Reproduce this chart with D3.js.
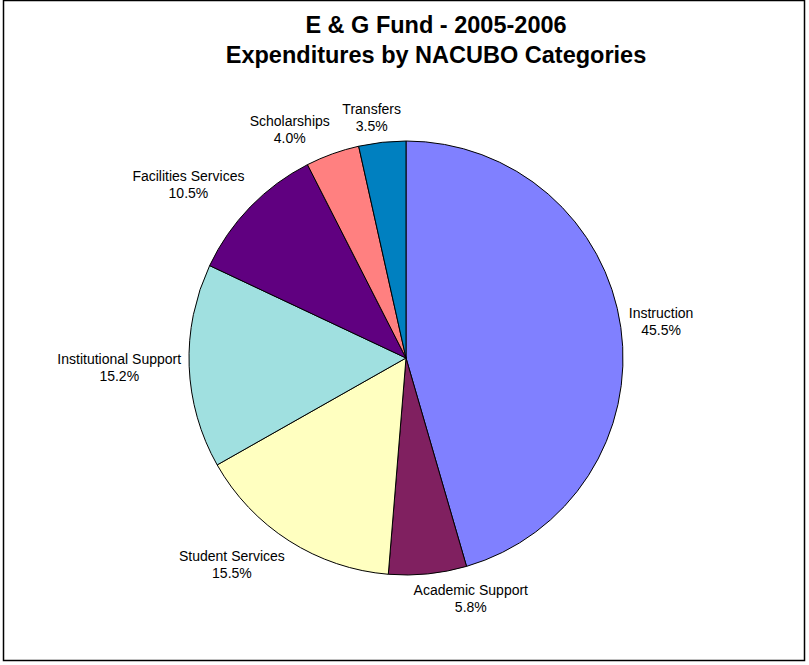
<!DOCTYPE html>
<html lang="en">
<head>
    <meta charset="UTF-8">
    <title>E & G Fund - 2005-2006</title>
    <script src="https://d3js.org/d3.v7.min.js"></script>
    <style>
        body { margin: 0; background: #fff; }
        svg text { font-family: "Liberation Sans", Arial, sans-serif; fill: #000; }
    </style>
</head>
<body>
    <svg id="chart" width="809" height="665"></svg>

    <script>
        // Datos del gráfico
        var categories = ["Instruction", "Academic Support", "Student Services", "Institutional Support",
                          "Facilities Services", "Scholarships", "Transfers"];
        var percents = [45.5, 5.8, 15.5, 15.2, 10.5, 4.0, 3.5];
        var colors = ["#8080FF", "#802060", "#FFFFC0", "#A0E0E0", "#600080", "#FF8080", "#0080C0"];
        var titleLines = ["E & G Fund - 2005-2006", "Expenditures by NACUBO Categories"];

        var data = categories.map((c, i) => ({ name: c, value: percents[i], color: colors[i] }));

        var svg = d3.select("#chart");

        // Marco del gráfico
        svg.append("rect")
            .attr("x", 3.5).attr("y", 0.5)
            .attr("width", 801).attr("height", 660)
            .attr("fill", "white")
            .attr("stroke", "#000")
            .attr("stroke-width", 1.5);

        // Título
        svg.selectAll(".title")
            .data(titleLines)
            .enter().append("text")
            .attr("class", "title")
            .attr("x", 436)
            .attr("y", (d, i) => 33 + i * 30)
            .attr("text-anchor", "middle")
            .attr("font-size", "23.5px")
            .attr("font-weight", "bold")
            .text(d => d);

        var cx = 406, cy = 358, radius = 217;

        var pie = d3.pie().sort(null).value(d => d.value);
        var arc = d3.arc().innerRadius(0).outerRadius(radius);
        var arcs = pie(data);

        var g = svg.append("g").attr("transform", "translate(" + cx + "," + cy + ")");

        g.selectAll(".slice")
            .data(arcs)
            .enter().append("path")
            .attr("class", "slice")
            .attr("d", arc)
            .attr("fill", d => d.data.color)
            .attr("stroke", "#000")
            .attr("stroke-width", 1);

        // Etiquetas afuera del pastel
        var fontSize = 14, lineH = 17;
        var labelShift = { "Academic Support": 25 }; // movida a mano en el original

        var labels = g.selectAll(".label")
            .data(arcs)
            .enter().append("g")
            .attr("class", "label");

        labels.each(function(d) {
            var sel = d3.select(this);
            var lines = [d.data.name, d.data.value.toFixed(1) + "%"];
            var t = sel.append("text")
                .attr("text-anchor", "middle")
                .attr("font-size", fontSize + "px");
            t.selectAll("tspan")
                .data(lines)
                .enter().append("tspan")
                .attr("x", 0)
                .attr("y", (l, i) => (i - 0.5) * lineH + fontSize * 0.35)
                .text(l => l);
            var w = t.node().getBBox().width;
            var h = lineH * 2;
            var a = (d.startAngle + d.endAngle) / 2;
            var sx = Math.sin(a), sy = -Math.cos(a);
            var clamp = v => Math.max(-1, Math.min(1, v));
            var px = (radius + 8) * sx, py = (radius + 8) * sy;
            var x = px + clamp(sx * 3) * w / 2 + (labelShift[d.data.name] || 0);
            var y = py + clamp(sy * 2) * h / 2;
            sel.attr("transform", "translate(" + x + "," + y + ")");
        });
    </script>
</body>
</html>
